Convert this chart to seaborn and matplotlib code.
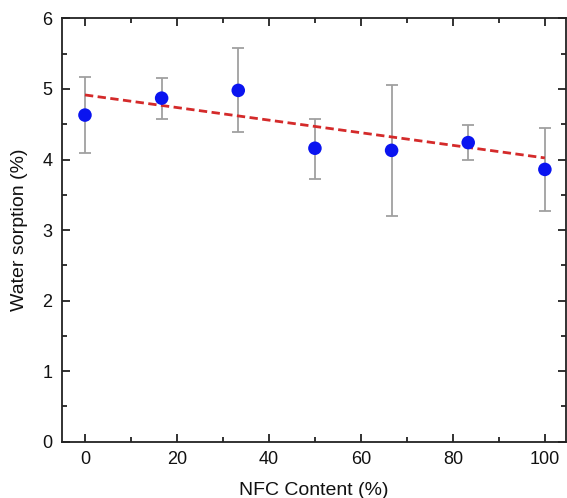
import numpy as np
import pandas as pd
import matplotlib
matplotlib.use("Agg")
import matplotlib.pyplot as plt
import seaborn as sns
from matplotlib.ticker import MultipleLocator

nfc = [0, 16.67, 33.33, 50, 66.67, 83.33, 100]
sorption = [4.63, 4.87, 4.98, 4.16, 4.13, 4.24, 3.86]
err_upper = [5.17, 5.16, 5.58, 4.58, 5.05, 4.49, 4.44]
err_lower = [4.09, 4.58, 4.39, 3.72, 3.20, 3.99, 3.27]

df = pd.DataFrame({"nfc": nfc, "sorption": sorption})

sns.set_style("ticks")
plt.rcParams['font.family'] = ['Liberation Sans', 'DejaVu Sans']
plt.rcParams['text.color'] = '#111111'
plt.rcParams['axes.labelcolor'] = '#111111'
plt.rcParams['xtick.labelcolor'] = '#111111'
plt.rcParams['ytick.labelcolor'] = '#111111'

fig = plt.figure(figsize=(5.67, 4.98), dpi=100)
ax = fig.add_axes([0.1093, 0.113, 0.889, 0.85])

lo = np.array(sorption) - np.array(err_lower)
hi = np.array(err_upper) - np.array(sorption)
ax.errorbar(nfc, sorption, yerr=[lo, hi], fmt='none', ecolor='#a0a0a0', elinewidth=1.3,
            capsize=4.5, capthick=1.3, zorder=2)

# weighted linear fit (weights = 1/sigma)
sigma = (np.array(err_upper) - np.array(err_lower)) / 2
coef = np.polyfit(nfc, sorption, 1, w=1 / sigma)
fit_x = np.array([min(nfc), max(nfc)])
fit_df = pd.DataFrame({"nfc": fit_x, "fit": np.polyval(coef, fit_x)})
sns.lineplot(data=fit_df, x="nfc", y="fit", ax=ax, color='#d42a2a', lw=2.0,
             dashes=False, zorder=3)
ax.lines[-1].set_linestyle((0, (3, 1.6)))

sns.scatterplot(data=df, x="nfc", y="sorption", ax=ax, color='#0a14f0', s=95,
                edgecolor='none', zorder=4)

ax.set_xlim(-5, 104.6)
ax.set_ylim(0, 6)
ax.xaxis.set_major_locator(MultipleLocator(20))
ax.xaxis.set_minor_locator(MultipleLocator(10))
ax.yaxis.set_major_locator(MultipleLocator(1))
ax.yaxis.set_minor_locator(MultipleLocator(0.5))
ax.tick_params(which='both', direction='in', top=True, right=True, width=1.3, color='#222222')
ax.tick_params(which='major', length=6, labelsize=13, pad=7)
ax.tick_params(which='minor', length=3.5)
for s in ax.spines.values():
    s.set_linewidth(1.3)
    s.set_color('#222222')
ax.set_xlabel("NFC Content (%)", fontsize=14, labelpad=9.5)
ax.set_ylabel("Water sorption (%)", fontsize=14, labelpad=10)

fig.savefig("out.png", dpi=100)
